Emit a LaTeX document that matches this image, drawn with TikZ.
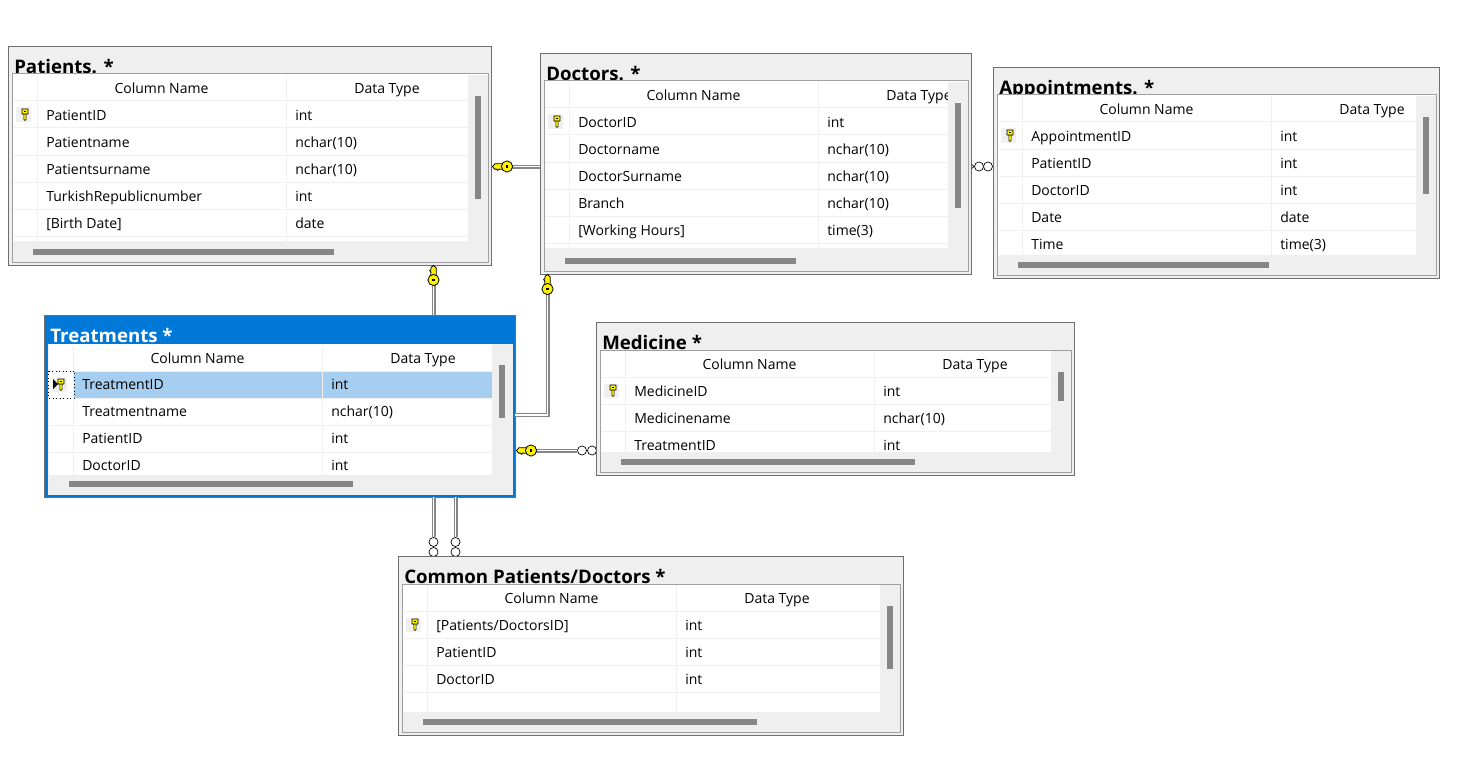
\documentclass[tikz,border=0pt]{standalone}
\usepackage{fontspec}
\setmainfont{Open Sans}
\usetikzlibrary{fit}
\definecolor{paneGray}{HTML}{EFEFEF}
\definecolor{edgeDark}{HTML}{6E6E6E}
\definecolor{edgeLight}{HTML}{A0A0A0}
\definecolor{barGray}{HTML}{868686}
\definecolor{ruleGray}{HTML}{F0F0F0}
\definecolor{msBlue}{HTML}{0078D7}
\definecolor{selBlue}{HTML}{A5CEF0}
\definecolor{keyYellow}{HTML}{FFF200}
\newif\ifdbsel
\pgfkeys{/db/.cd,
  xa/.store in=\dbxa, ya/.store in=\dbya, xb/.store in=\dbxb, yb/.store in=\dbyb,
  title/.store in=\dbtitle, bottom/.store in=\dbbot, top/.store in=\dbtop,
  vbar/.store in=\dbvbar, vend/.store in=\dbvend, hbar/.store in=\dbhbar, hend/.store in=\dbhend,
  rows/.store in=\dbrows, titlecol/.store in=\dbtcol, tshift/.store in=\dbts,
  sel/.is if=dbsel}
\tikzset{
  tablebox/.style={draw=edgeDark,line width=.7pt,fill=paneGray,inner sep=0pt},
  tabletitle/.style={anchor=base west,inner sep=0pt,font=\fontsize{14}{16}\selectfont\bfseries},
  celltext/.style={anchor=base west,inner sep=0pt,font=\fontsize{10.5}{12}\selectfont,text=black},
  headtext/.style={anchor=base,inner sep=0pt,font=\fontsize{10.5}{12}\selectfont,text=black},
  rulethin/.style={draw=ruleGray,line width=.75pt},
  rel/.style={draw=barGray,line width=.8pt,double=white,double distance=1.4pt},
  many/.style={circle,draw=black,fill=white,line width=.5pt,minimum size=6.8pt,inner sep=0pt},
  keyicon/.pic={
    \path[draw=black,fill=keyYellow,line width=.6pt]
      (-4,-2.8)--(-12,-2.8)--(-14.5,0)--(-12.5,2.6)--(-10.5,2.6)--(-9.5,3.8)--(-8,2.6)--(-4,2.8)--cycle;
    \path[draw=black,fill=keyYellow,line width=.6pt] (0,0) circle[radius=5.6];
    \path[fill=black] (-1.3,-1.3) rectangle (1.3,1.3);
  },
  rowkey/.pic={
    \path[draw=black,fill=keyYellow,line width=.45pt]
      (-3,-5) rectangle (3,0) (-1.1,0)--(1.1,0)--(1.1,5.5)--(0,6.5)--(-1.1,5.5)--cycle;
    \path[fill=black] (-1,-3.4) rectangle (1,-1.6);
  }
}
\newcommand\dbtable[2]{%
  \pgfkeys{/db/.cd,titlecol=black,top=28,sel=false,tshift=0.3,#2}%
  \pgfmathsetmacro\yt{\dbya+\dbtop}%
  \pgfmathsetmacro\wr{\dbxb-23}%
  \node[tablebox,fit={(\dbxa-.6,\dbya-.6)(\dbxb,\dbyb)}] (#1) {};
  \ifdbsel
    \fill[msBlue] (\dbxa,\dbya) rectangle (\dbxb,\yt-1);
    \draw[msBlue,line width=2.2pt] (\dbxa+1.2,\dbya+1) rectangle (\dbxb-1,\dbyb-1);
    \draw[edgeDark,line width=.8pt] (\dbxa-.6,\dbya-.6) -- (\dbxb,\dbya-.6);
  \fi
  \node[tabletitle,text=\dbtcol] (#1-title) at (\dbxa+5,\dbya+26.8) {\dbtitle};
  \ifdbsel
    \fill[white] (\dbxa+3.5,\yt-1) rectangle (\wr,\dbbot);
    \fill[paneGray] (\wr,\yt-1) rectangle (\dbxb-2.5,\dbyb-3.5);
    \fill[paneGray] (\dbxa+3.5,\dbbot) rectangle (\dbxb-2.5,\dbyb-3.5);
  \else
    \draw[edgeLight,line width=.75pt,fill=white] (\dbxa+3,\yt-1) rectangle (\dbxb-2.5,\dbyb-3);
  \fi
  \ifdbsel \fill[selBlue] (\dbxa+29,\yt+25.5) rectangle (\wr,\yt+52.5); \fi
  \foreach \ly in {26,53,...,400}{%
    \pgfmathparse{(\yt+\ly)<\dbbot?1:0}%
    \ifnum\pgfmathresult=1 \draw[rulethin] (\dbxa+4,\yt+\ly) -- (\wr,\yt+\ly); \fi}
  \draw[rulethin] (\dbxa+28.5,\yt) -- (\dbxa+28.5,\dbbot);
  \draw[rulethin] (\dbxa+277.5,\yt) -- (\dbxa+277.5,\dbbot);
  \node[headtext] (#1-hn) at (\dbxa+152.5,\yt+18.9) {Column Name};
  \node[headtext] (#1-ht) at (\dbxa+378,\yt+18.9) {Data Type};
  \foreach \cn/\ct [count=\i] in \dbrows {%
    \pgfmathsetmacro\ry{\yt+26+27*(\i-1)+\dbts}%
    \node[celltext] (#1-n\i) at (\dbxa+37,\ry+19) {\cn};
    \node[celltext] (#1-t\i) at (\dbxa+286,\ry+19) {\ct};
  }
  \pgfmathsetmacro\kx{\dbxa+16}%
  \pgfmathsetmacro\ky{\yt+39.5}%
  \fill[ruleGray] (\kx-9.5,\ky-7) rectangle (\kx+6,\ky+7.5);
  \pic at (\kx,\ky-0.5) {rowkey};
  \ifdbsel\else
    \fill[paneGray] (\wr,\yt) rectangle (\dbxb-3,\dbyb-3.5);
    \fill[paneGray] (\dbxa+3.5,\dbbot) rectangle (\dbxb-3,\dbyb-3.5);
  \fi
  \fill[barGray] (\dbxb-16,\dbvbar) rectangle (\dbxb-10,\dbvend);
  \fill[barGray] (\dbhbar,\dbyb-16) rectangle (\dbhend,\dbyb-10);
}
\begin{document}
\begin{tikzpicture}[x=.75pt,y=-.75pt]
\useasboundingbox (0,0) rectangle (1461,767);
% crow's-foot circles sit under the tables
\node[many] (ca1) at (979,166.5) {};
\node[many] (ca2) at (988,166.5) {};
\node[many] (cm1) at (582,450.5) {};
\node[many] (cm2) at (592,450.5) {};
\node[many] (cc1) at (433.5,542) {};
\node[many] (cc2) at (433.5,552) {};
\node[many] (cd1) at (455.5,542) {};
\node[many] (cd2) at (455.5,552) {};

\dbtable{patients}{xa=9,ya=47,xb=491,yb=265,title={Patients. *},bottom=241,
  vbar=96,vend=199,hbar=33,hend=334,
  rows={PatientID/int,Patientname/nchar(10),Patientsurname/nchar(10),TurkishRepublicnumber/int,{[Birth Date]}/date}}
\dbtable{doctors}{xa=541,ya=54,xb=971,yb=274,title={Doctors. *},bottom=248,
  vbar=103,vend=208,hbar=565,hend=796,
  rows={DoctorID/int,Doctorname/nchar(10),DoctorSurname/nchar(10),Branch/nchar(10),{[Working Hours]}/time(3)}}
\dbtable{appointments}{xa=994,ya=68,xb=1439,yb=278,title={Appointments. *},bottom=255,
  vbar=117,vend=194,hbar=1018,hend=1269,
  rows={AppointmentID/int,PatientID/int,DoctorID/int,Date/date,Time/time(3)}}
\dbtable{treatments}{xa=45,ya=316,xb=515,yb=497,title={Treatments *},bottom=475,top=29,tshift=-0.8,
  titlecol=white,sel=true,vbar=365,vend=418,hbar=69,hend=353,
  rows={TreatmentID/int,Treatmentname/nchar(10),PatientID/int,DoctorID/int}}
\dbtable{medicine}{xa=597,ya=323,xb=1074,yb=475,title={Medicine *},bottom=452,
  vbar=372,vend=401,hbar=621,hend=915,
  rows={MedicineID/int,Medicinename/nchar(10),TreatmentID/int}}
\dbtable{common}{xa=399,ya=557,xb=903,yb=735,title={Common Patients/Doctors *},bottom=712,
  vbar=606,vend=669,hbar=423,hend=757,
  rows={{[Patients/DoctorsID]}/int,PatientID/int,DoctorID/int}}

% selected-row marker in Treatments
\fill[black] (53,379) -- (58,384) -- (53,389) -- cycle;
\draw[black,line width=.6pt,dotted] (48.5,371) rectangle (74,398);

% relationship ends
\coordinate (kpd) at (507,166.5);
\coordinate (kpt) at (433.5,280);
\coordinate (kdt) at (547.5,289);
\coordinate (ktm) at (531,450.5);
\coordinate (tc) at (515,415);

\draw[rel] (kpd) -- (doctors.west |- kpd);
\draw[rel] (kpt) -- (treatments.north -| kpt);
\draw[rel] (kdt) |- (tc);
\draw[rel] (ktm) -- (cm1);
\draw[rel] (treatments.south -| cc1) -- (cc1);
\draw[rel] (treatments.south -| cd1) -- (cd1);
\draw[black,line width=.5pt] (ca1.west) -- ++(-2.5,-2) (ca1.west) -- ++(-2.5,2);

\pic at (kpd) {keyicon};
\pic[rotate=-90] at (kpt) {keyicon};
\pic[rotate=-90] at (kdt) {keyicon};
\pic at (ktm) {keyicon};
\end{tikzpicture}
\end{document}
